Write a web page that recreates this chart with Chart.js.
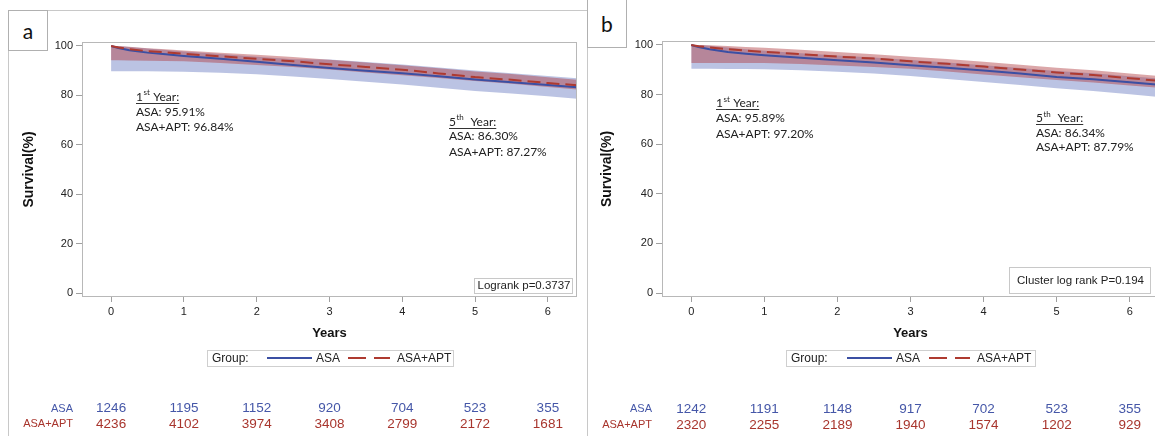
<!DOCTYPE html>
<html><head><meta charset="utf-8">
<script src="https://cdn.jsdelivr.net/npm/chart.js@4.4.0/dist/chart.umd.min.js"></script>
<style>
html,body{margin:0;padding:0;background:#fff;overflow:hidden;width:1155px;height:436px;}
#wrap{position:relative;width:1155px;height:436px;overflow:hidden;background:#fff;}
.panel{position:absolute;top:0;height:436px;}
#pa{left:0;width:590px;}
#pb{left:587px;width:580px;}
.line{position:absolute;background:#c8c8c8;}
.lab{position:absolute;box-sizing:border-box;border:1px solid #b0b0b0;background:#fff;font-family:Lato,'Open Sans',sans-serif;font-size:21px;color:#111;display:flex;align-items:center;justify-content:center;z-index:5;}
</style>
</head><body>
<div id="wrap">
  <div class="line" style="left:8px;top:10px;width:579px;height:1px;"></div>
  <div class="line" style="left:8px;top:10px;width:1px;height:426px;"></div>
  <div class="line" style="left:587px;top:0px;width:1px;height:436px;"></div>
  <div class="panel" id="pa"><canvas id="ca" width="590" height="436"></canvas></div>
  <div class="panel" id="pb"><canvas id="cb" width="580" height="436"></canvas></div>
  <div class="lab" style="left:8px;top:10px;width:40px;height:41px;">a</div>
  <div class="lab" style="left:587px;top:-1px;width:40px;height:49px;">b</div>
</div>
<script>
// ---------- DATA ----------
const xTicks = [0, 1, 2, 3, 4, 5, 6];
const yTicks = [0, 20, 40, 60, 80, 100];

// Panel a
const yearsA  = [0, 0.1, 0.25, 0.5, 0.75, 1, 1.5, 2, 2.5, 3, 3.5, 4, 4.5, 5, 5.5, 6, 6.4];
const asaA    = [100, 99.2, 98.3, 97.3, 96.6, 95.9, 94.8, 93.6, 92.3, 91.1, 90.0, 89.0, 87.7, 86.4, 85.3, 84.2, 83.3];
const aptA    = [100, 99.4, 98.7, 97.9, 97.4, 96.8, 95.8, 94.8, 93.8, 92.6, 91.5, 90.4, 88.9, 87.4, 86.3, 85.0, 84.1];
const asaLoA  = [89.8, 89.8, 89.8, 89.8, 89.7, 89.6, 89.2, 88.5, 87.6, 86.6, 85.5, 84.4, 83.1, 81.8, 80.8, 79.6, 78.6];
const asaHiA  = [100, 100, 99.6, 99.0, 98.4, 97.8, 96.7, 95.6, 94.6, 94.5, 93.5, 92.5, 91.3, 90.1, 89.0, 87.8, 86.9];
const aptLoA  = [94.2, 94.2, 94.1, 94.0, 93.9, 93.8, 93.1, 92.3, 91.5, 90.5, 89.3, 88.1, 87.0, 85.8, 84.7, 83.4, 82.4];
const aptHiA  = [100, 100, 99.7, 99.1, 98.7, 98.2, 97.3, 96.4, 95.5, 94.4, 93.3, 92.2, 91.0, 89.7, 88.6, 87.3, 86.3];
const riskAsaA = [1246, 1195, 1152, 920, 704, 523, 355];
const riskAptA = [4236, 4102, 3974, 3408, 2799, 2172, 1681];

// Panel b
const yearsB  = [0, 0.1, 0.25, 0.5, 0.75, 1, 1.5, 2, 2.5, 3, 3.5, 4, 4.5, 5, 5.5, 6, 6.5];
const asaB    = [100, 99.2, 98.3, 97.2, 96.5, 95.9, 94.8, 93.8, 92.9, 91.8, 90.8, 89.7, 88.5, 87.1, 86.2, 85.0, 83.7];
const aptB    = [100, 99.5, 99.0, 98.3, 97.7, 97.2, 96.3, 95.3, 94.5, 93.4, 92.4, 91.3, 90.1, 88.9, 87.9, 86.6, 85.3];
const asaLoB  = [90.4, 90.4, 90.4, 90.3, 90.3, 90.2, 89.8, 89.2, 88.5, 87.5, 86.3, 85.1, 83.9, 82.6, 81.4, 80.1, 78.7];
const asaHiB  = [100, 100, 99.7, 99.0, 98.3, 97.7, 96.7, 95.8, 94.9, 93.9, 92.9, 91.8, 90.7, 89.5, 88.6, 87.4, 86.2];
const aptLoB  = [92.7, 92.7, 92.7, 92.7, 92.7, 92.7, 92.3, 91.7, 91.1, 90.4, 89.3, 88.1, 87.0, 85.9, 84.9, 83.7, 82.5];
const aptHiB  = [100, 100, 99.9, 99.6, 99.2, 98.9, 98.1, 97.2, 96.3, 95.3, 94.3, 93.2, 92.0, 90.8, 89.8, 88.5, 87.2];
const riskAsaB = [1242, 1191, 1148, 917, 702, 523, 355];
const riskAptB = [2320, 2255, 2189, 1940, 1574, 1202, 929];

const seriesNames = ['ASA', 'ASA+APT'];
const notesA = {first: ['ASA: 95.91%', 'ASA+APT: 96.84%'], fifth: ['ASA: 86.30%', 'ASA+APT: 87.27%'], p: 'Logrank p=0.3737'};
const notesB = {first: ['ASA: 95.89%', 'ASA+APT: 97.20%'], fifth: ['ASA: 86.34%', 'ASA+APT: 87.79%'], p: 'Cluster log rank P=0.194'};

// ---------- STYLE ----------
const BLUE = '#3b4fa3';
const RED = '#ae3a30';
const BLUE_TXT = '#4557a8';
const RED_TXT = '#a8352d';
const BLUE_FILL = 'rgba(120,135,200,0.5)';
const RED_FILL = 'rgba(175,60,65,0.45)';
const SANS = '"Liberation Sans", Arial, sans-serif';

function pts(t, v) { return t.map((x, i) => ({x: x, y: v[i]})); }

function drawNote(ctx, x, ys, num, sup, gap, lines) {
  ctx.fillStyle = '#222'; ctx.textBaseline = 'middle'; ctx.textAlign = 'left';
  ctx.font = '12px Lato';
  let cx = x;
  ctx.fillText(num, cx, ys[0]); cx += ctx.measureText(num).width;
  ctx.font = '8px Lato';
  ctx.fillText(sup, cx + 0.5, ys[0] - 4); cx += ctx.measureText(sup).width + 1;
  ctx.font = '12px Lato';
  const rest = gap + 'Year:';
  ctx.fillText(rest, cx, ys[0]); cx += ctx.measureText(rest).width;
  ctx.strokeStyle = '#333'; ctx.lineWidth = 1;
  const uy = Math.round(ys[0] + 6) + 0.5;
  ctx.beginPath(); ctx.moveTo(x, uy); ctx.lineTo(cx, uy); ctx.stroke();
  ctx.fillText(lines[0], x, ys[1]);
  ctx.fillText(lines[1], x, ys[2]);
}

const extras = {
  id: 'extras',
  afterDraw(chart, args, o) {
    const {ctx, chartArea: ca} = chart;
    const xs = chart.scales.x;
    ctx.save();
    // plot frame
    ctx.strokeStyle = '#b8b8b8'; ctx.lineWidth = 1; ctx.setLineDash([]);
    ctx.strokeRect(Math.round(ca.left) + 0.5, Math.round(ca.top) + 0.5,
                   Math.round(ca.right - ca.left) - 1, Math.round(ca.bottom - ca.top) - 1);
    // notes
    drawNote(ctx, o.n1x, o.n1y, '1', 'st', ' ', o.notes.first);
    drawNote(ctx, o.n2x, o.n2y, '5', 'th', '  ', o.notes.fifth);
    // p-value box
    const pb = o.pbox;
    ctx.fillStyle = '#fff';
    ctx.fillRect(pb[0], pb[1], pb[2] - pb[0], pb[3] - pb[1]);
    ctx.strokeStyle = '#c8c8c8';
    ctx.strokeRect(pb[0] + 0.5, pb[1] + 0.5, pb[2] - pb[0], pb[3] - pb[1]);
    ctx.fillStyle = '#222'; ctx.font = '11.5px ' + SANS; ctx.textAlign = 'center'; ctx.textBaseline = 'middle';
    ctx.fillText(o.notes.p, (pb[0] + pb[2]) / 2 + 1, (pb[1] + pb[3]) / 2 + 0.5);
    // legend
    const lg = o.legend;
    const my = (lg.top + lg.bottom) / 2;
    ctx.strokeStyle = '#cfcfcf';
    ctx.strokeRect(lg.left + 0.5, lg.top + 0.5, lg.right - lg.left, lg.bottom - lg.top);
    ctx.fillStyle = '#222'; ctx.font = '12px ' + SANS; ctx.textAlign = 'left';
    ctx.fillText('Group:', lg.left + 5, my + 0.5);
    ctx.lineWidth = 2;
    ctx.strokeStyle = BLUE; ctx.beginPath(); ctx.moveTo(lg.b1, my); ctx.lineTo(lg.b2, my); ctx.stroke();
    ctx.fillText(seriesNames[0], lg.b2 + 4, my + 0.5);
    ctx.strokeStyle = RED; ctx.setLineDash([18, 8]);
    ctx.beginPath(); ctx.moveTo(lg.r1, my); ctx.lineTo(lg.r2, my); ctx.stroke();
    ctx.setLineDash([]);
    ctx.fillText(seriesNames[1], lg.r2 + 7, my + 0.5);
    // risk table
    ctx.font = '11px ' + SANS; ctx.textAlign = 'right';
    ctx.fillStyle = BLUE_TXT; ctx.fillText(seriesNames[0], o.riskLabelX, o.riskY[0]);
    ctx.fillStyle = RED_TXT; ctx.fillText(seriesNames[1], o.riskLabelX, o.riskY[1]);
    ctx.font = '13.5px ' + SANS; ctx.textAlign = 'center';
    xTicks.forEach((t, i) => {
      const px = xs.getPixelForValue(t);
      ctx.fillStyle = BLUE_TXT; ctx.fillText(String(o.riskAsa[i]), px, o.riskY[0]);
      ctx.fillStyle = RED_TXT; ctx.fillText(String(o.riskApt[i]), px, o.riskY[1]);
    });
    ctx.restore();
  }
};

function makeChart(id, cfg) {
  const datasets = [
    {data: pts(cfg.t, cfg.asa), borderColor: BLUE, borderWidth: 2, pointRadius: 0, fill: false, order: 1, tension: 0},
    {data: pts(cfg.t, cfg.apt), borderColor: RED, borderWidth: 2, borderDash: [13, 6], pointRadius: 0, fill: false, order: 0, tension: 0},
    {data: pts(cfg.t, cfg.asaLo), borderWidth: 0, pointRadius: 0, fill: false, order: 5},
    {data: pts(cfg.t, cfg.asaHi), borderWidth: 0, pointRadius: 0, fill: 2, backgroundColor: BLUE_FILL, order: 4},
    {data: pts(cfg.t, cfg.aptLo), borderWidth: 0, pointRadius: 0, fill: false, order: 3},
    {data: pts(cfg.t, cfg.aptHi), borderWidth: 0, pointRadius: 0, fill: 4, backgroundColor: RED_FILL, order: 2}
  ];
  return new Chart(document.getElementById(id), {
    type: 'line',
    data: {datasets: datasets},
    plugins: [extras],
    options: {
      responsive: false, animation: false, devicePixelRatio: 1,
      layout: {padding: cfg.pad},
      plugins: {legend: {display: false}, tooltip: {enabled: false}, extras: cfg.extras},
      scales: {
        x: {
          type: 'linear', min: -0.4, max: 6.4,
          afterBuildTicks: s => { s.ticks = xTicks.map(v => ({value: v})); },
          afterFit: s => { s.height = 44; },
          grid: {display: true, drawOnChartArea: false, drawTicks: true, tickLength: 5, color: '#a0a0a0'},
          border: {display: false},
          ticks: {color: '#222', font: {family: SANS, size: 11}, padding: 3, maxRotation: 0},
          title: {display: true, text: 'Years', color: '#111', font: {family: SANS, size: 13, weight: 'bold'}, padding: {top: 4, bottom: 0}}
        },
        y: {
          type: 'linear', min: -1.6, max: 101.6,
          afterBuildTicks: s => { s.ticks = yTicks.map(v => ({value: v})); },
          afterFit: s => { s.width = cfg.yWidth; },
          grid: {display: true, drawOnChartArea: false, drawTicks: true, tickLength: 6, color: '#a0a0a0'},
          border: {display: false},
          ticks: {color: '#222', font: {family: SANS, size: 11}, padding: 3},
          title: {display: true, text: 'Survival(%)', color: '#111', font: {family: SANS, size: 14, weight: 'bold'}, padding: {top: 4, bottom: 0}}
        }
      }
    }
  });
}

makeChart('ca', {
  t: yearsA, asa: asaA, apt: aptA, asaLo: asaLoA, asaHi: asaHiA, aptLo: aptLoA, aptHi: aptHiA,
  pad: {left: 17, top: 42, right: 13, bottom: 95}, yWidth: 65,
  extras: {
    notes: notesA, n1x: 136, n1y: [96.7, 111.7, 126.7], n2x: 449, n2y: [121.7, 136.5, 151.7],
    pbox: [474, 278, 572, 293],
    legend: {left: 207, top: 350, right: 453, bottom: 366, b1: 267, b2: 312, r1: 348, r2: 390},
    riskLabelX: 73, riskY: [408.5, 424], riskAsa: riskAsaA, riskApt: riskAptA
  }
});

makeChart('cb', {
  t: yearsB, asa: asaB, apt: aptB, asaLo: asaLoB, asaHi: asaHiB, aptLo: aptLoB, aptHi: aptHiB,
  pad: {left: 8, top: 41, right: 8, bottom: 95}, yWidth: 67,
  extras: {
    notes: notesB, n1x: 129, n1y: [103.3, 118.3, 134.3], n2x: 449, n2y: [118.3, 132.7, 147.3],
    pbox: [422, 267, 563, 293],
    legend: {left: 199, top: 350, right: 448, bottom: 366, b1: 260, b2: 305, r1: 342, r2: 383},
    riskLabelX: 65, riskY: [409, 425], riskAsa: riskAsaB, riskApt: riskAptB
  }
});
</script>
</body></html>
